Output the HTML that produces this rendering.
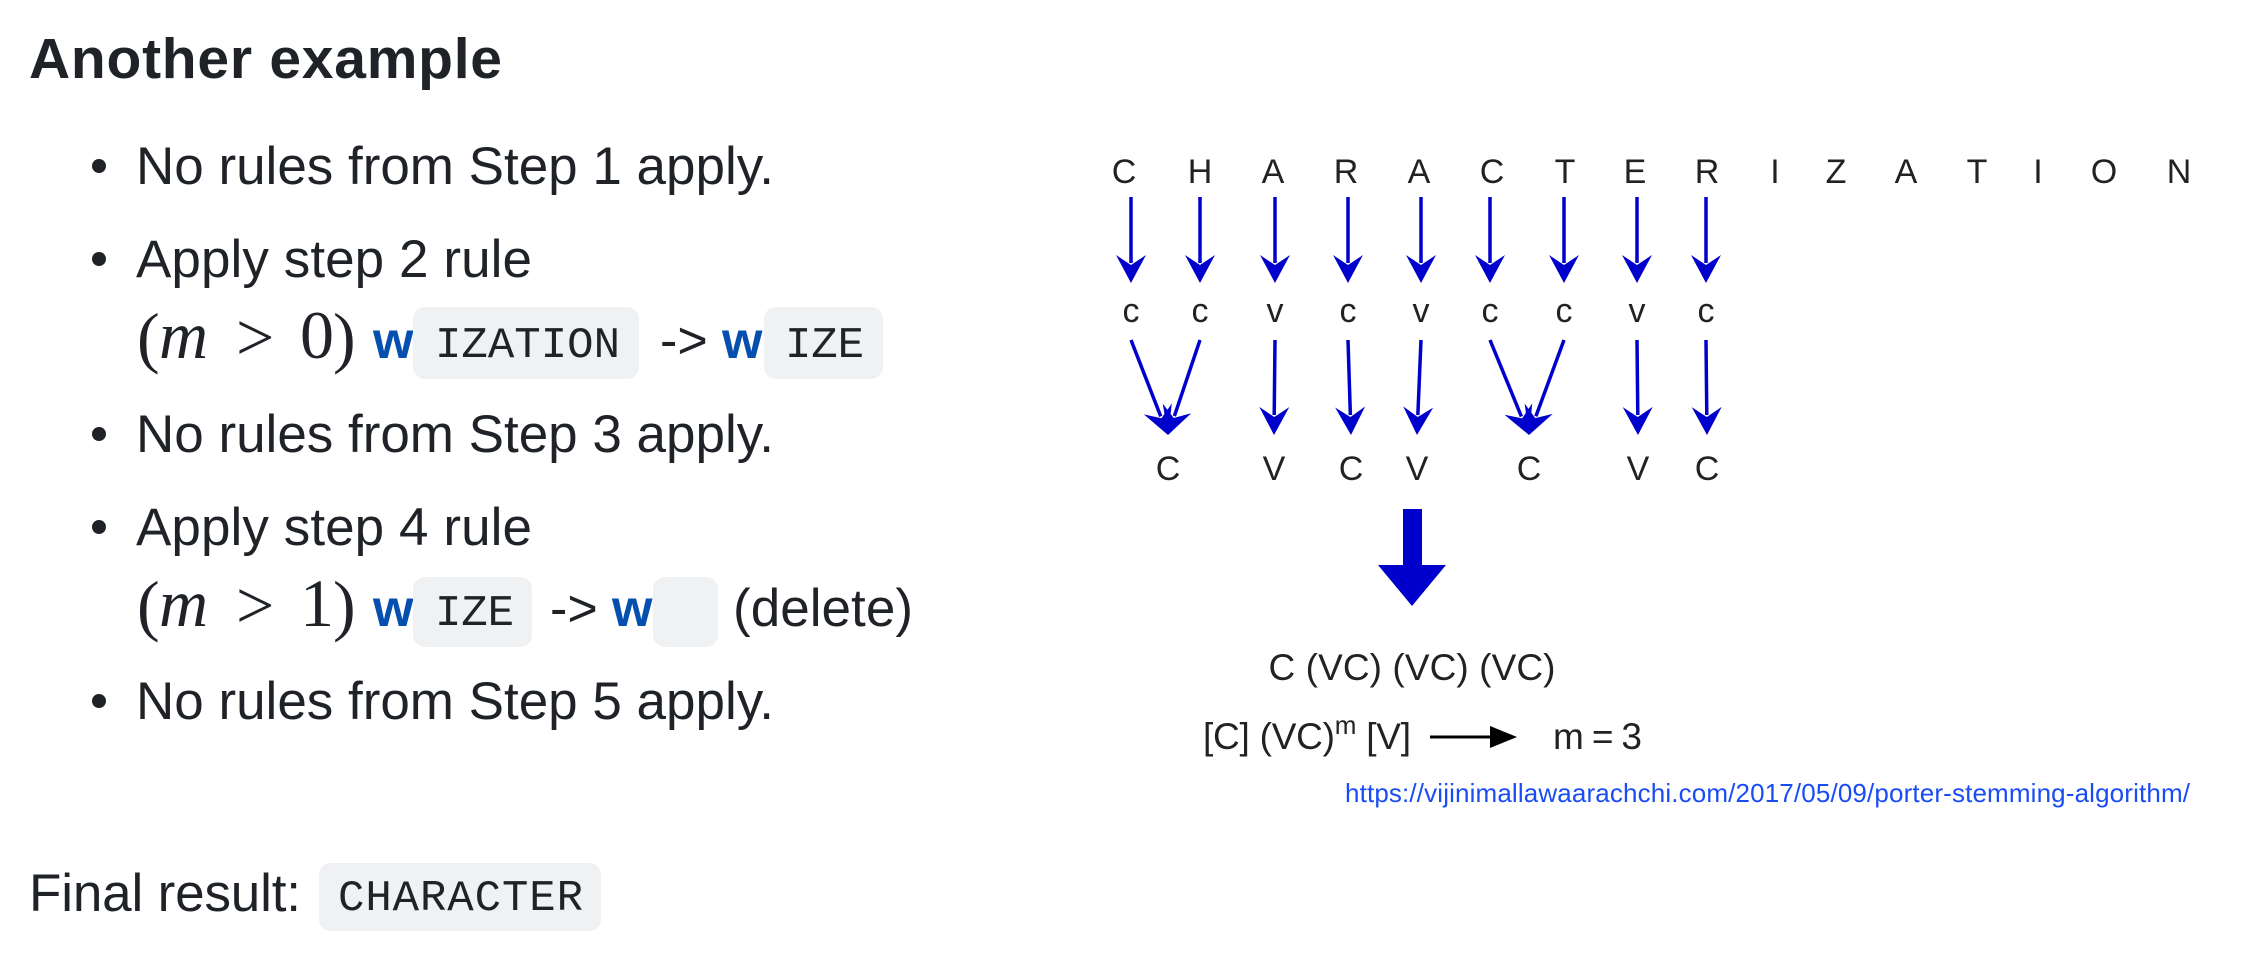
<!DOCTYPE html>
<html><head><meta charset="utf-8"><style>
html,body{margin:0;padding:0;background:#fff;width:2248px;height:955px;overflow:hidden}
svg{display:block}
.t{font-family:"Liberation Sans",sans-serif;fill:#1f2328}
.mono{font-family:"Liberation Mono",monospace;fill:#1f2328;font-size:44px}
.ser{font-family:"Liberation Serif",serif;fill:#1f2328;font-size:68px}
.w{font-family:"Liberation Sans",sans-serif;font-weight:bold;fill:#0550ae;font-size:52px}
.code{fill:#eff1f3}
.d{font-family:"Liberation Sans",sans-serif;fill:#222}
</style></head><body>
<svg id="s" width="2248" height="955" viewBox="0 0 2248 955" xmlns="http://www.w3.org/2000/svg">
<text class="t" x="29" y="78" font-size="57" font-weight="bold" textLength="473">Another example</text>

<g>
<circle cx="99" cy="166" r="7" fill="#1f2328"/>
<text class="t" x="136" y="184" font-size="53" textLength="638">No rules from Step 1 apply.</text>

<circle cx="99" cy="259" r="7" fill="#1f2328"/>
<text class="t" x="136" y="277" font-size="53" textLength="396">Apply step 2 rule</text>
<g>
<text class="ser" x="137" y="360">(</text>
<text class="ser" x="159" y="358" font-style="italic" textLength="57">m</text>
<text class="ser" x="236" y="360" textLength="44">&gt;</text>
<text class="ser" x="300" y="358">0</text>
<text class="ser" x="333" y="360">)</text>
<text class="w" x="373" y="358">w</text>
<rect class="code" x="413" y="307" width="226" height="72" rx="12"/>
<text class="mono" x="435" y="357" textLength="185">IZATION</text>
<text class="t" x="660" y="358" font-size="52">-&gt;</text>
<text class="w" x="722" y="358">w</text>
<rect class="code" x="764" y="307" width="119" height="72" rx="12"/>
<text class="mono" x="785" y="357" textLength="79">IZE</text>
</g>

<circle cx="99" cy="434" r="7" fill="#1f2328"/>
<text class="t" x="136" y="452" font-size="53" textLength="638">No rules from Step 3 apply.</text>

<circle cx="99" cy="527" r="7" fill="#1f2328"/>
<text class="t" x="136" y="545" font-size="53" textLength="396">Apply step 4 rule</text>
<g>
<text class="ser" x="137" y="628">(</text>
<text class="ser" x="159" y="626" font-style="italic" textLength="57">m</text>
<text class="ser" x="236" y="628" textLength="44">&gt;</text>
<text class="ser" x="300" y="626">1</text>
<text class="ser" x="333" y="628">)</text>
<text class="w" x="373" y="626">w</text>
<rect class="code" x="413" y="577" width="119" height="70" rx="12"/>
<text class="mono" x="435" y="625" textLength="79">IZE</text>
<text class="t" x="550" y="626" font-size="52">-&gt;</text>
<text class="w" x="612" y="626">w</text>
<rect class="code" x="653" y="577" width="65" height="70" rx="12"/>
<text class="t" x="733" y="626" font-size="53" textLength="180">(delete)</text>
</g>

<circle cx="99" cy="701" r="7" fill="#1f2328"/>
<text class="t" x="136" y="719" font-size="53" textLength="638">No rules from Step 5 apply.</text>
</g>

<text class="t" x="29" y="911" font-size="53" textLength="272">Final result:</text>
<rect class="code" x="319" y="863" width="282" height="68" rx="12"/>
<text class="mono" x="338" y="910" textLength="245">CHARACTER</text>

<g id="diag">
<text class="d" x="1412" y="680" font-size="37" text-anchor="middle" textLength="287">C (VC) (VC) (VC)</text>
<text class="d" x="1203" y="749" font-size="37" textLength="208">[C] (VC)<tspan dy="-15" font-size="26">m</tspan><tspan dy="15"> [V]</tspan></text>
<line x1="1430" y1="737" x2="1492" y2="737" stroke="#000" stroke-width="3"/>
<polygon points="1490,726 1517,737 1490,748" fill="#000"/>
<text class="d" x="1553" y="749" font-size="37" textLength="89">m = 3</text>
<polygon points="1403,509 1422,509 1422,565 1446,565 1412,606 1378,565 1403,565" fill="#0000cc"/>
<text x="1345" y="802" font-family="Liberation Sans,sans-serif" font-size="26" fill="#1a4cf5" textLength="845">https://vijinimallawaarachchi.com/2017/05/09/porter-stemming-algorithm/</text>
</g>
</svg>
<script>
const word = ["C","H","A","R","A","C","T","E","R","I","Z","A","T","I","O","N"];
const wordX = [1124,1200,1273,1346,1419,1492,1565,1635,1707,1775,1836,1906,1977,2038,2104,2179];
const cvLabels = ["c","c","v","c","v","c","c","v","c"];
const cvX = [1131,1200,1275,1348,1421,1490,1564,1637,1706];
const groupLabels = ["C","V","C","V","C","V","C"];
const groupX = [1168,1274,1351,1417,1529,1638,1707];
const groupSources = [[0,1],[2],[3],[4],[5,6],[7],[8]];
const NS = "http://www.w3.org/2000/svg";
const g = document.getElementById("diag");
function txt(x,y,s,fs,name){
  const t=document.createElementNS(NS,"text");
  t.setAttribute("x",x);t.setAttribute("y",y);t.setAttribute("font-size",fs);
  t.setAttribute("class","d");t.setAttribute("text-anchor","middle");
  t.textContent=s;
  
  
  g.appendChild(t);
}
function arrow(x1,y1,x2,y2,name){
  const a=document.createElementNS(NS,"g");
  
  
  const dx=x2-x1,dy=y2-y1,L=Math.hypot(dx,dy),ux=dx/L,uy=dy/L,px=-uy,py=ux;
  const l=document.createElementNS(NS,"line");
  l.setAttribute("x1",x1);l.setAttribute("y1",y1);
  l.setAttribute("x2",x2-ux*20);l.setAttribute("y2",y2-uy*20);
  l.setAttribute("stroke","#0000cc");l.setAttribute("stroke-width","3.5");
  a.appendChild(l);
  const bx=x2-ux*28,by=y2-uy*28,nx=x2-ux*18,ny=y2-uy*18;
  const p=document.createElementNS(NS,"polygon");
  p.setAttribute("points",`${x2},${y2} ${bx+px*15},${by+py*15} ${nx},${ny} ${bx-px*15},${by-py*15}`);
  p.setAttribute("fill","#0000cc");
  a.appendChild(p);
  g.appendChild(a);
}
word.forEach((c,i)=>txt(wordX[i],183,c,34,"letter-"+i));
cvLabels.forEach((c,i)=>{
  arrow(cvX[i],197,cvX[i],283,"arrow-down-"+i);
  txt(cvX[i],322,c,34,"cv-label-"+i);
});
groupLabels.forEach((c,i)=>{
  groupSources[i].forEach(j=>arrow(cvX[j],340,groupX[i],435,"group-arrow-"+i+"-"+j));
  txt(groupX[i],480,c,34,"group-label-"+i);
});
</script>
</body></html>
